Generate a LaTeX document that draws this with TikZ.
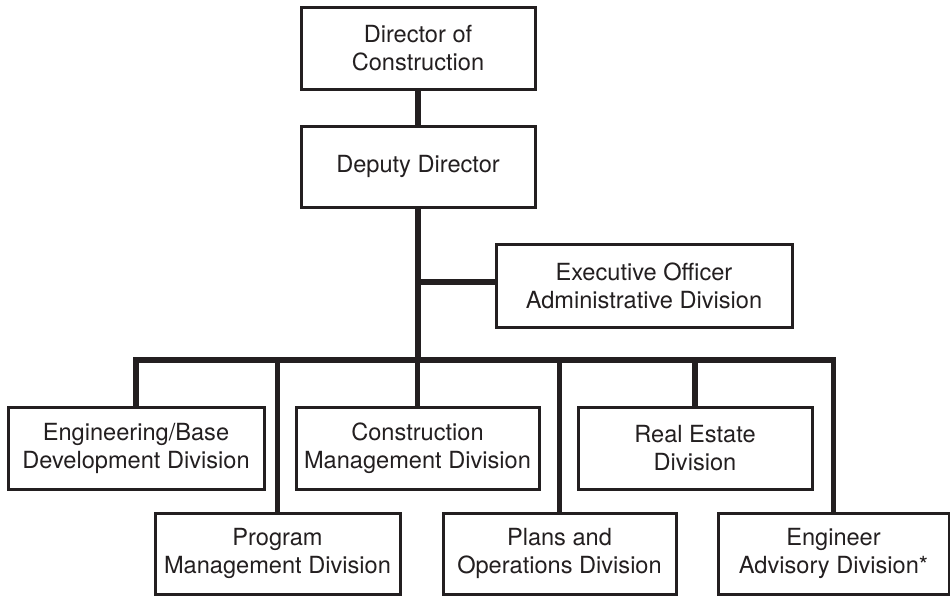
\documentclass[tikz,border=0pt]{standalone}
\usepackage{fontspec}
\setmainfont{TeX Gyre Heros}
\definecolor{inkc}{RGB}{35,31,32}
\tikzset{
  box/.style={draw=inkc, line width=1.5pt, fill=white, align=center, inner sep=0pt,
    text=inkc, font=\fontsize{11.8}{14}\selectfont},
  conn/.style={draw=inkc, line width=2.6pt, line join=miter}
}
\begin{document}
\begin{tikzpicture}[x=0.5pt,y=-0.5pt]
\useasboundingbox (0,0) rectangle (950,596);
% top
\node[box, minimum width=117pt, minimum height=41pt] (dir) at (418,48) {Director of\\Construction};
\node[box, minimum width=117pt, minimum height=40.5pt] (dep) at (418,166.5) {Deputy Director};
\node[box, minimum width=148pt, minimum height=41.5pt] (exec) at (644,285.5) {Executive Officer\\Administrative Division};
% row 1
\node[box, minimum width=128pt, minimum height=41pt] (eng) at (136,448) {Engineering/Base\\Development Division};
\node[box, minimum width=121.5pt, minimum height=41pt] (cm) at (417.5,448) {Construction\\Management Division};
\node[box, minimum width=117pt, minimum height=41pt] (re) at (695,448) {Real Estate\\Division};
% row 2
\node[box, minimum width=122.5pt, minimum height=40.5pt] (prog) at (277.5,553.5) {Program\\Management Division};
\node[box, minimum width=116.5pt, minimum height=40.5pt] (plans) at (559.5,553.5) {Plans and\\Operations Division};
\node[box, minimum width=115.5pt, minimum height=40.5pt] (adv) at (833.5,553.5) {Engineer\\Advisory Division*};
% bus coordinates
\coordinate (busy) at (0,360);
\coordinate (ej) at (418,282);
% connectors
\draw[conn] (dir.south) -- (dep.north);
\draw[conn] (dep.south) -- (dep.south |- busy);
\draw[conn] (ej) -- (ej -| exec.west);
\draw[conn] (eng.north) |- (adv.north |- busy) -- (adv.north);
\draw[conn] (cm.north) -- (cm.north |- busy);
\draw[conn] (re.north) -- (re.north |- busy);
\draw[conn] (prog.north) -- (prog.north |- busy);
\draw[conn] (plans.north) -- (plans.north |- busy);
\end{tikzpicture}
\end{document}
